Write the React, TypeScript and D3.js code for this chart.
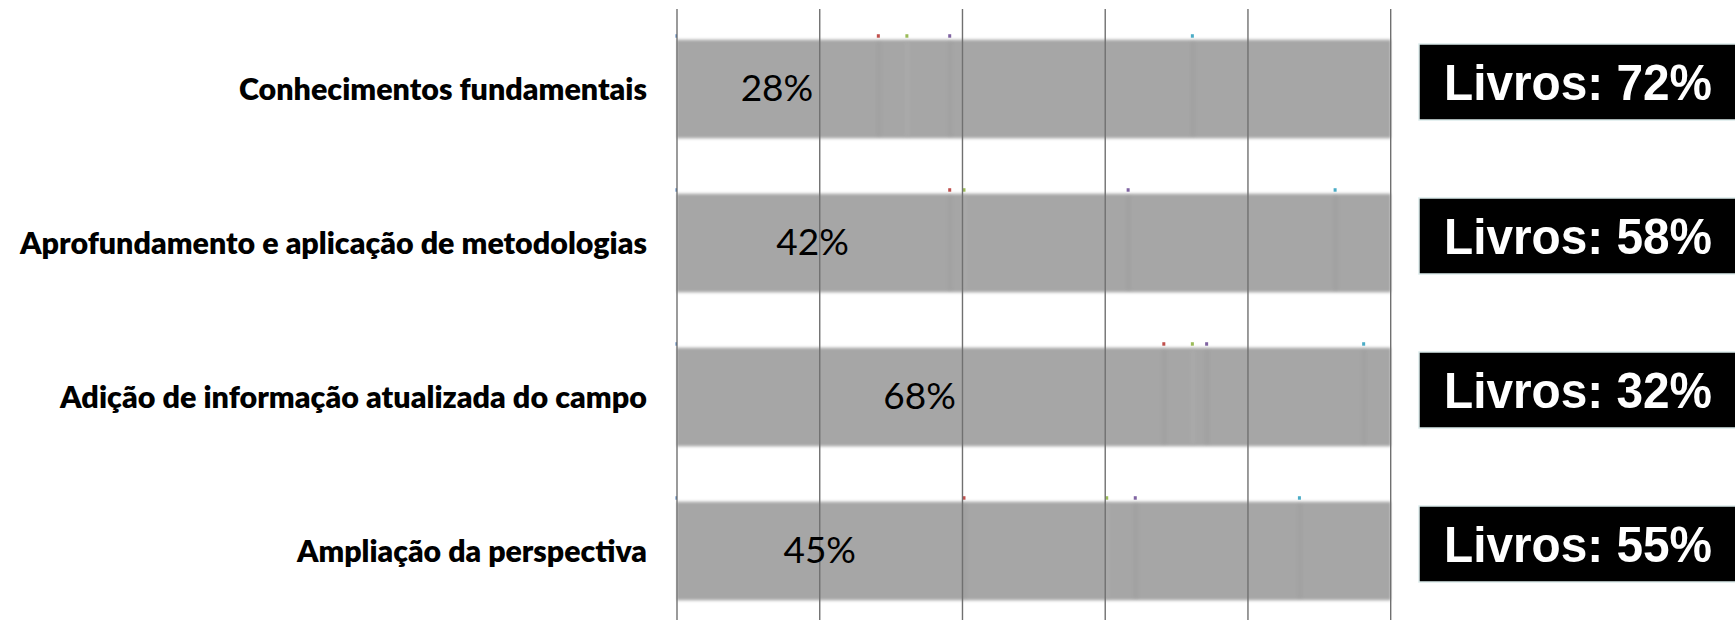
import React from "react";
import * as d3 from "d3";

const categories = [
  "Conhecimentos fundamentais",
  "Aprofundamento e aplicação de metodologias",
  "Adição de informação atualizada do campo",
  "Ampliação da perspectiva",
];
// stacked segment widths (percent) per series
const seriesBlue = [28, 38, 68, 40];
const seriesRed = [4, 2, 4, 20];
const seriesGreen = [6, 23, 2, 4];
const seriesPurple = [34, 29, 22, 23];
const seriesTeal = [28, 8, 4, 13];
const seriesColors = ["#4f81bd", "#c0504d", "#9bbb59", "#8064a2", "#4bacc6"];
const barLabels = [28, 42, 68, 45];
const livrosValues = [72, 58, 32, 55];
const gridTicks = [0, 20, 40, 60, 80, 100];
const labelWidths = [408, 627, 587, 350];

const W = 1735;
const H = 620;

export default function App() {
  const x = d3.scaleLinear().domain([0, 100]).range([677, 1390.7]);
  const y = d3
    .scaleBand<string>()
    .domain(categories)
    .range([12, 628])
    .paddingInner(0.36)
    .paddingOuter(0.18);
  const bw = y.bandwidth();
  const series = [seriesBlue, seriesRed, seriesGreen, seriesPurple, seriesTeal];

  return (
    <svg
      width={W}
      height={H}
      style={{ position: "absolute", left: 0, top: 0, background: "#fff" }}
    >
      <defs>
        <filter id="soft" x="-2%" y="-10%" width="104%" height="120%">
          <feGaussianBlur stdDeviation="0.8 1.8" />
        </filter>
        <filter id="stripe" x="-100%" y="-10%" width="300%" height="120%">
          <feGaussianBlur stdDeviation="1.4 1.5" />
        </filter>
      </defs>
      {categories.map((c, i) => {
        const top = y(c)!;
        const starts: number[] = [];
        let acc = 0;
        series.forEach((s) => {
          starts.push(acc);
          acc += s[i];
        });
        return (
          <g key={c}>
            <rect
              x={x(0)}
              y={top}
              width={x(100) - x(0)}
              height={bw}
              fill="#a6a6a6"
              filter="url(#soft)"
            />
            {starts.map((s, k) =>
              k === 0 ? null : (
                <rect
                  key={"st" + k}
                  x={x(s) - 0.5}
                  y={top + 2}
                  width={5}
                  height={bw - 4}
                  fill={k === 2 ? "#b0b0b0" : "#9a9a9a"}
                  opacity={0.35}
                  filter="url(#stripe)"
                />
              )
            )}
            {starts.map((s, k) => (
              <rect
                key={"m" + k}
                x={k === 0 ? x(s) - 1.5 : x(s)}
                y={top - 5.5}
                width={k === 0 ? 1.5 : 3}
                height={3.5}
                fill={seriesColors[k]}
              />
            ))}
          </g>
        );
      })}
      {gridTicks.map((t) => (
        <line
          key={t}
          x1={x(t)}
          x2={x(t)}
          y1={9}
          y2={H}
          stroke="#707070"
          strokeWidth={1.4}
        />
      ))}
      {categories.map((c, i) => {
        const cy = y(c)! + bw / 2;
        return (
          <g key={"lab" + c}>
            <text
              x={647}
              y={cy + 11}
              textAnchor="end"
              fontFamily="Lato, 'Open Sans', sans-serif"
              fontWeight={800}
              fontSize={31}
              textLength={labelWidths[i]}
              lengthAdjust="spacingAndGlyphs"
              fill="#000"
            >
              {c}
            </text>
            <text
              x={x(seriesBlue[i] / 2)}
              y={cy + 11.7}
              textAnchor="middle"
              fontFamily="Lato, 'Open Sans', sans-serif"
              fontSize={37}
              fill="#000"
            >
              {barLabels[i] + "%"}
            </text>
            <rect
              x={1419}
              y={cy - 45}
              width={330}
              height={76}
              fill="#000"
              stroke="#dcecec"
              strokeWidth={1.5}
            />
            <text
              x={1578}
              y={cy - 7 + 17.5}
              textAnchor="middle"
              fontFamily="'Liberation Sans', Arial, sans-serif"
              fontWeight={700}
              fontSize={50}
              textLength={268}
              lengthAdjust="spacingAndGlyphs"
              fill="#fff"
            >
              {"Livros: " + livrosValues[i] + "%"}
            </text>
          </g>
        );
      })}
    </svg>
  );
}
